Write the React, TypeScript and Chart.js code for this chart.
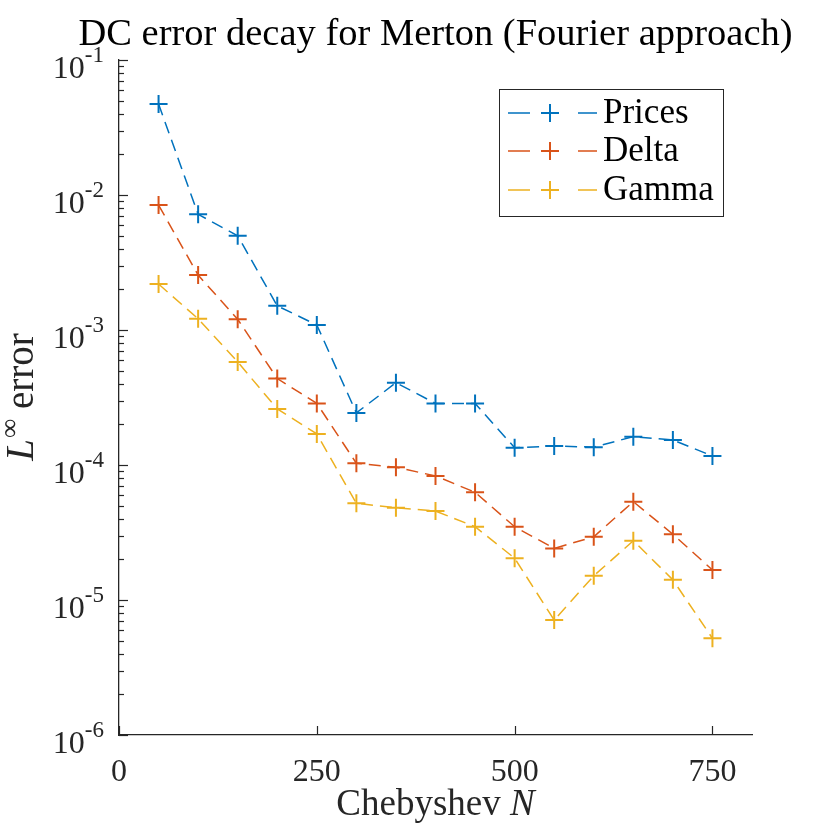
import React, { useEffect, useRef } from "react";
import { Chart, registerables } from "chart.js";

Chart.register(...registerables);

const N_VALUES = [50, 100, 150, 200, 250, 300, 350, 400, 450, 500, 550, 600, 650, 700, 750];
const PRICES = [0.0472, 0.00719, 0.00499, 0.00151, 0.00109, 0.000243, 0.000407, 0.000286, 0.000286, 0.0001343, 0.0001383, 0.0001356, 0.0001622, 0.0001531, 0.0001166];
const DELTA = [0.00843, 0.00255, 0.0012, 0.000437, 0.000286, 0.000103, 0.0000962, 0.000083, 0.0000628, 0.0000349, 0.0000241, 0.0000294, 0.0000535, 0.0000307, 0.0000167];
const GAMMA = [0.00219, 0.00121, 0.00058, 0.00026, 0.00017, 0.000052, 0.0000483, 0.0000456, 0.0000349, 0.0000204, 0.0000071, 0.0000151, 0.0000275, 0.0000141, 0.0000052];
const SERIES_LABELS = ["Prices", "Delta", "Gamma"];
const SERIES_COLORS = ["#0072BD", "#D95319", "#EDB120"];
const X_TICKS = [0, 250, 500, 750];
const Y_TICK_EXPONENTS = [-1, -2, -3, -4, -5, -6];
const TITLE = "DC error decay for Merton (Fourier approach)";

const FONT = '"Liberation Serif", "Times New Roman", serif';
const AXIS_COLOR = "#262626";

const decorPlugin = {
  id: "decor",
  afterDraw(chart: any) {
    const ctx = chart.ctx as CanvasRenderingContext2D;
    const area = chart.chartArea;
    const xs = chart.scales.x;
    const ys = chart.scales.y;
    ctx.save();
    ctx.strokeStyle = AXIS_COLOR;
    ctx.fillStyle = AXIS_COLOR;
    ctx.lineWidth = 1.2;
    // y ticks (inward)
    for (const e of Y_TICK_EXPONENTS) {
      const y = ys.getPixelForValue(Math.pow(10, e));
      ctx.beginPath();
      ctx.moveTo(area.left, Math.round(y) + 0.5);
      ctx.lineTo(area.left + 9, Math.round(y) + 0.5);
      ctx.stroke();
      if (e > -6) {
        for (let k = 2; k <= 9; k++) {
          const ym = ys.getPixelForValue(k * Math.pow(10, e - 1));
          ctx.beginPath();
          ctx.moveTo(area.left, Math.round(ym) + 0.5);
          ctx.lineTo(area.left + 5, Math.round(ym) + 0.5);
          ctx.stroke();
        }
      }
      const base = "10";
      const sup = String(e);
      ctx.font = `32px ${FONT}`;
      const wb = ctx.measureText(base).width;
      ctx.font = `23px ${FONT}`;
      const ws = ctx.measureText(sup).width;
      const right = 104;
      ctx.textBaseline = "alphabetic";
      ctx.textAlign = "left";
      ctx.font = `32px ${FONT}`;
      ctx.fillText(base, right - ws - wb, y + 18);
      ctx.font = `23px ${FONT}`;
      ctx.fillText(sup, right - ws, y + 2);
    }
    // x ticks
    for (const v of X_TICKS) {
      const x = xs.getPixelForValue(v);
      ctx.beginPath();
      ctx.moveTo(Math.round(x) + 0.5, area.bottom);
      ctx.lineTo(Math.round(x) + 0.5, area.bottom - 9);
      ctx.stroke();
      ctx.font = `32px ${FONT}`;
      ctx.textAlign = "center";
      ctx.textBaseline = "middle";
      ctx.fillText(String(v), x, area.bottom + 38);
    }
    // x axis title
    const cx = (area.left + area.right) / 2;
    const t1 = "Chebyshev ";
    ctx.font = `37px ${FONT}`;
    const w1 = ctx.measureText(t1).width;
    ctx.font = `italic 37px ${FONT}`;
    const w2 = ctx.measureText("N").width;
    const sx = cx - (w1 + w2) / 2;
    ctx.textAlign = "left";
    ctx.textBaseline = "alphabetic";
    ctx.font = `37px ${FONT}`;
    ctx.fillText(t1, sx, area.bottom + 80);
    ctx.font = `italic 37px ${FONT}`;
    ctx.fillText("N", sx + w1, area.bottom + 80);

    // y axis title
    const cy = (area.top + area.bottom) / 2;
    ctx.save();
    ctx.translate(33, cy);
    ctx.rotate(-Math.PI / 2);
    ctx.font = `italic 39px ${FONT}`;
    const wL = ctx.measureText("L").width;
    ctx.font = `27px ${FONT}`;
    const wInf = ctx.measureText("\u221E").width;
    ctx.font = `39px ${FONT}`;
    const wErr = ctx.measureText(" error").width;
    let px = -(wL + wInf + wErr) / 2;
    ctx.font = `italic 39px ${FONT}`;
    ctx.fillText("L", px, 0);
    px += wL + 1;
    ctx.font = `27px ${FONT}`;
    ctx.fillText("\u221E", px, -15);
    px += wInf;
    ctx.font = `39px ${FONT}`;
    ctx.fillText(" error", px, 0);
    ctx.restore();

    // title
    ctx.fillStyle = "#000";
    ctx.font = `38.5px ${FONT}`;
    ctx.textAlign = "center";
    ctx.textBaseline = "alphabetic";
    ctx.fillText(TITLE, cx, 45);

    // legend
    const lx = 499, ly = 89, lw = 224, lh = 127;
    ctx.fillStyle = "#fff";
    ctx.fillRect(lx, ly, lw, lh);
    ctx.strokeStyle = AXIS_COLOR;
    ctx.lineWidth = 1;
    ctx.strokeRect(lx + 0.5, ly + 0.5, lw, lh);
    const rows = [113, 151, 190];
    chart.data.datasets.forEach((ds: any, i: number) => {
      const ry = rows[i];
      ctx.strokeStyle = ds.borderColor;
      ctx.lineWidth = 1.5;
      ctx.beginPath();
      ctx.moveTo(508, ry);
      ctx.lineTo(530, ry);
      ctx.moveTo(578, ry);
      ctx.lineTo(597, ry);
      ctx.stroke();
      ctx.lineWidth = 2;
      ctx.beginPath();
      ctx.moveTo(541, ry);
      ctx.lineTo(559, ry);
      ctx.moveTo(550, ry - 9);
      ctx.lineTo(550, ry + 9);
      ctx.stroke();
      ctx.fillStyle = "#000";
      ctx.font = `35px ${FONT}`;
      ctx.textAlign = "left";
      ctx.textBaseline = "middle";
      ctx.fillText(ds.label, 603, ry + 1);
    });
    ctx.restore();
  },
};

export default function App() {
  const ref = useRef<HTMLCanvasElement | null>(null);
  useEffect(() => {
    const seriesValues = [PRICES, DELTA, GAMMA];
    const chart = new Chart(ref.current as HTMLCanvasElement, {
      type: "line",
      data: {
        datasets: seriesValues.map((vals, i) => ({
          label: SERIES_LABELS[i],
          data: N_VALUES.map((n, j) => ({ x: n, y: vals[j] })),
          borderColor: SERIES_COLORS[i],
          backgroundColor: SERIES_COLORS[i],
          borderWidth: 1.5,
          borderDash: [12, 7],
          pointStyle: "cross",
          pointRadius: 9,
          pointBorderWidth: 2,
          pointBorderColor: SERIES_COLORS[i],
          fill: false,
          tension: 0,
        })),
      },
      options: {
        animation: false,
        responsive: false,
        layout: { padding: { top: 60, right: 78, left: 0, bottom: 0 } },
        plugins: { legend: { display: false }, title: { display: false }, tooltip: { enabled: false } },
        scales: {
          x: {
            type: "linear",
            min: 0,
            max: 800,
            ticks: { display: false },
            grid: { display: false },
            border: { display: true, color: AXIS_COLOR, width: 1.3 },
            afterFit: (s: any) => { s.height = 95; },
          },
          y: {
            type: "logarithmic",
            min: 1e-6,
            max: 1e-1,
            ticks: { display: false },
            grid: { display: false },
            border: { display: true, color: AXIS_COLOR, width: 1.3 },
            afterFit: (s: any) => { s.width = 119; },
          },
        },
      },
      plugins: [decorPlugin],
    });
    return () => chart.destroy();
  }, []);
  return (
    <div style={{ position: "absolute", left: 0, top: 0, width: 830, height: 830, background: "#fff" }}>
      <canvas ref={ref} width={830} height={830} style={{ width: 830, height: 830 }} />
    </div>
  );
}
